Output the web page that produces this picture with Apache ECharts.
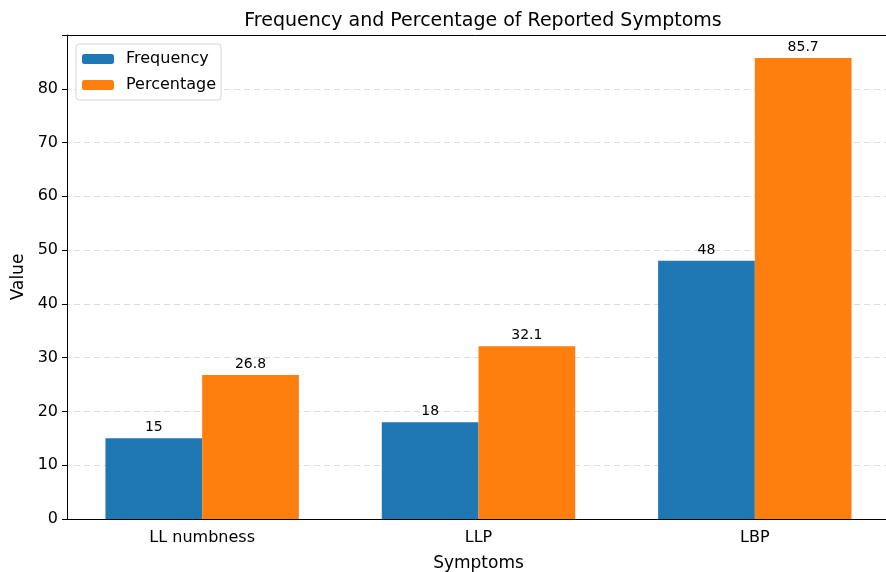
<!DOCTYPE html>
<html>
<head>
<meta charset="utf-8">
<script src="https://cdn.jsdelivr.net/npm/echarts@6/dist/echarts.min.js"></script>
<style>
  html, body { margin: 0; padding: 0; background: #fff; }
  #chart { width: 886px; height: 572px; }
</style>
</head>
<body>
<div id="chart"></div>
<script>
const categories = ['LL numbness', 'LLP', 'LBP']
const frequency = [15, 18, 48]
const percentage = [26.8, 32.1, 85.7]
const yTicks = [0, 10, 20, 30, 40, 50, 60, 70, 80]

const FONT = 'DejaVu Sans'
let chart = echarts.init(document.getElementById('chart'))

chart.setOption({
  animation: false,
  textStyle: { fontFamily: FONT },
  title: {
    text: 'Frequency and Percentage of Reported Symptoms',
    left: 478,
    textAlign: 'center',
    top: 7,
    textStyle: { fontFamily: FONT, fontSize: 19, fontWeight: 'normal', color: '#000' }
  },
  legend: {
    orient: 'vertical',
    left: 76,
    top: 44,
    padding: [7, 5, 7, 6],
    itemWidth: 32,
    itemHeight: 10,
    itemGap: 10,
    backgroundColor: '#fff',
    borderColor: '#d6d6d6',
    borderWidth: 1,
    borderRadius: 3,
    textStyle: { fontFamily: FONT, fontSize: 16, color: '#000', padding: [0, 0, 0, 7] },
    data: ['Frequency', 'Percentage']
  },
  grid: { left: 64, width: 829, top: 35, bottom: 53, containLabel: false, outerBoundsMode: 'none' },
  xAxis: [
    {
      type: 'category',
      data: categories,
      name: 'Symptoms',
      nameLocation: 'middle',
      nameGap: 36,
      nameTextStyle: { fontFamily: FONT, fontSize: 17, color: '#000' },
      axisLine: { lineStyle: { color: '#000' } },
      axisTick: { alignWithLabel: true, length: 5, lineStyle: { color: '#000' } },
      axisLabel: { fontFamily: FONT, fontSize: 16, color: '#000', margin: 11 }
    },
    {
      type: 'category',
      data: categories,
      position: 'top',
      axisLine: { lineStyle: { color: '#000' } },
      axisTick: { show: false },
      axisLabel: { show: false }
    }
  ],
  yAxis: {
    type: 'value',
    min: 0,
    max: 90,
    interval: 10,
    offset: -3,
    name: 'Value',
    nameLocation: 'middle',
    nameGap: 31,
    nameTextStyle: { fontFamily: FONT, fontSize: 17, color: '#000' },
    axisLine: { show: true, lineStyle: { color: '#000' } },
    axisTick: { show: true, length: 5, lineStyle: { color: '#000' } },
    axisLabel: {
      fontFamily: FONT, fontSize: 16, color: '#000', margin: 9,
      formatter: v => yTicks.indexOf(v) >= 0 ? String(v) : ''
    },
    splitLine: { show: true, lineStyle: { color: '#dcdcdc', type: [6, 4], width: 1 } }
  },
  series: [
    {
      name: 'Frequency',
      type: 'bar',
      data: frequency,
      barWidth: '35%',
      barGap: '0%',
      itemStyle: { color: '#1f77b4' },
      label: { show: true, position: 'top', distance: 4, fontFamily: FONT, fontSize: 14, color: '#000' }
    },
    {
      name: 'Percentage',
      type: 'bar',
      data: percentage,
      barWidth: '35%',
      barGap: '0%',
      itemStyle: { color: '#ff7f0e' },
      label: { show: true, position: 'top', distance: 4, fontFamily: FONT, fontSize: 14, color: '#000' }
    }
  ]
})
</script>
</body>
</html>
